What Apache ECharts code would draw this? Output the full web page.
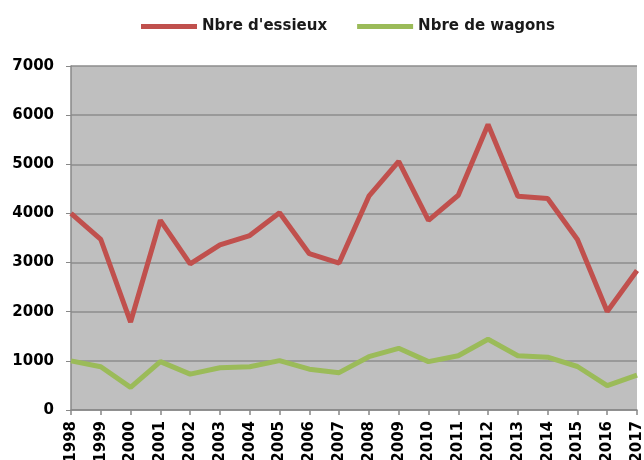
<!DOCTYPE html>
<html>
<head>
<meta charset="utf-8">
<script src="https://cdn.jsdelivr.net/npm/echarts@6/dist/echarts.min.js"></script>
<style>
  html, body { margin: 0; padding: 0; background: #fff; }
  #chart { width: 644px; height: 460px; }
</style>
</head>
<body>
<div id="chart"></div>
<script>
// données
const years = ['1998', '1999', '2000', '2001', '2002', '2003', '2004', '2005', '2006', '2007',
  '2008', '2009', '2010', '2011', '2012', '2013', '2014', '2015', '2016', '2017'];
const essieux = [4000, 3470, 1790, 3860, 2975, 3360, 3550, 4015, 3180, 2990,
  4350, 5060, 3860, 4370, 5810, 4350, 4305, 3470, 2005, 2840];
const wagons = [1000, 880, 460, 985, 730, 860, 880, 1005, 830, 760,
  1085, 1255, 985, 1105, 1440, 1105, 1075, 885, 495, 710];
const yTicks = [0, 1000, 2000, 3000, 4000, 5000, 6000, 7000];

const colors = { red: '#C0504D', green: '#9BBB59', plot: '#BFBFBF', grid: '#8C8C8C' };
const font = 'DejaVu Sans';

const chart = echarts.init(document.getElementById('chart'));
chart.setOption({
  animation: false,
  textStyle: { fontFamily: font },
  legend: {
    left: 136, top: 14,
    itemWidth: 56, itemHeight: 5, itemGap: 30,
    icon: 'rect',
    textStyle: { color: '#1a1a1a', fontSize: 15, fontWeight: 'bold', fontFamily: font },
    data: ["Nbre d'essieux", 'Nbre de wagons']
  },
  grid: {
    left: 71, right: 7, top: 66, bottom: 50,
    outerBoundsMode: 'none',
    show: true, backgroundColor: colors.plot, borderWidth: 0
  },
  xAxis: {
    type: 'category',
    data: years,
    boundaryGap: false,
    axisLine: { lineStyle: { color: '#888', width: 1.5 } },
    axisTick: { show: true, length: 5, lineStyle: { color: '#888', width: 1.5 } },
    axisLabel: { color: '#000', fontSize: 15, fontWeight: 'bold', fontFamily: font, rotate: 90, margin: 11, interval: 0 }
  },
  yAxis: {
    type: 'value',
    min: yTicks[0], max: yTicks[yTicks.length - 1], interval: 1000,
    axisLine: { show: true, lineStyle: { color: '#888', width: 1.5 } },
    axisTick: { show: true, length: 5, lineStyle: { color: '#888' } },
    axisLabel: { color: '#000', fontSize: 15, fontWeight: 'bold', fontFamily: font, margin: 17, formatter: v => String(v) },
    splitLine: { lineStyle: { color: colors.grid, width: 1.5 } }
  },
  series: [
    {
      name: "Nbre d'essieux",
      type: 'line',
      data: essieux,
      symbol: 'none',
      itemStyle: { color: colors.red },
      lineStyle: { color: colors.red, width: 5 }
    },
    {
      name: 'Nbre de wagons',
      type: 'line',
      data: wagons,
      symbol: 'none',
      itemStyle: { color: colors.green },
      lineStyle: { color: colors.green, width: 5 }
    }
  ]
});
</script>
</body>
</html>
